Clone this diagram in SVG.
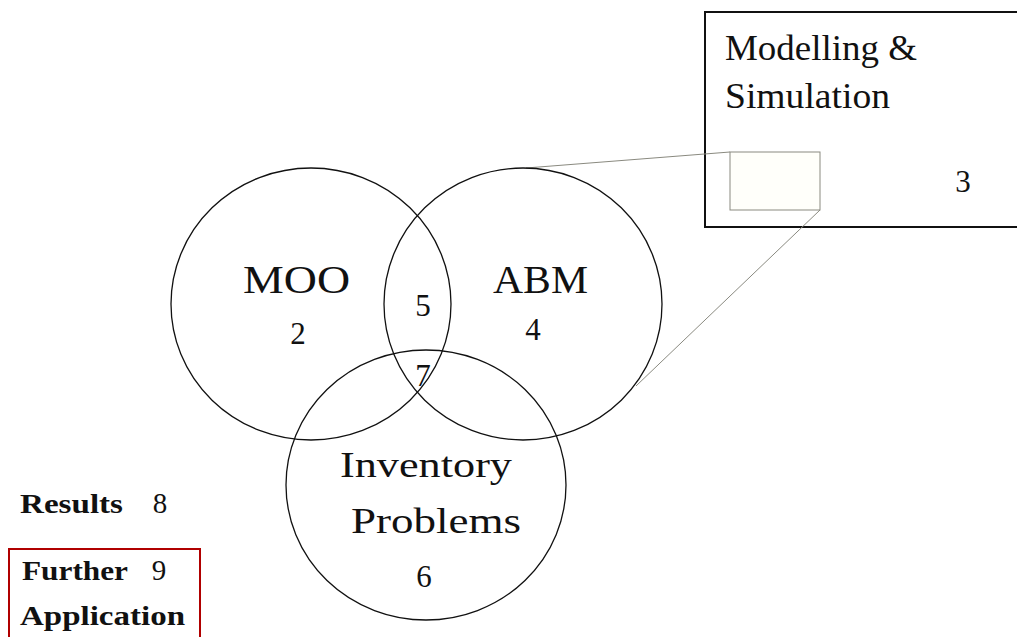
<svg xmlns="http://www.w3.org/2000/svg" width="1017" height="637" viewBox="0 0 1017 637">
  <style>
    .set { fill: none; stroke: #111; stroke-width: 1.3; }
    .lbl { font-family: "Liberation Serif", "DejaVu Serif", serif; fill: #111; }
    .big { font-size: 40px; }
    .mid { font-size: 36px; }
    .num { font-size: 31px; }
    .side { font-family: "Liberation Serif", "DejaVu Serif", serif; font-size: 27px; font-weight: bold; fill: #111; }
    .zoom { fill: none; stroke: #8a8a80; stroke-width: 1; }
  </style>
  <rect width="1017" height="637" fill="#fff"/>

  <g id="modelling">
    <rect x="705" y="12" width="318" height="215" fill="none" stroke="#111" stroke-width="2"/>
    <rect x="730" y="152" width="90" height="58" fill="#fffffa" stroke="#8a8a80" stroke-width="1"/>
    <text class="lbl mid" x="725" y="60" textLength="192" lengthAdjust="spacingAndGlyphs">Modelling &amp;</text>
    <text class="lbl mid" x="725" y="108" textLength="165" lengthAdjust="spacingAndGlyphs">Simulation</text>
    <text class="lbl num" x="963" y="192" text-anchor="middle">3</text>
  </g>

  <g id="connectors">
    <line class="zoom" x1="730" y1="152" x2="526" y2="168"/>
    <line class="zoom" x1="820" y1="210" x2="636" y2="386"/>
  </g>

  <g id="moo">
    <ellipse class="set" cx="311" cy="304" rx="140" ry="136"/>
    <text class="lbl big" x="243" y="293" textLength="107" lengthAdjust="spacingAndGlyphs">MOO</text>
    <text class="lbl num" x="298" y="344" text-anchor="middle">2</text>
  </g>

  <g id="abm">
    <ellipse class="set" cx="523" cy="304" rx="139" ry="136"/>
    <text class="lbl big" x="493" y="293" textLength="95" lengthAdjust="spacingAndGlyphs">ABM</text>
    <text class="lbl num" x="533" y="340" text-anchor="middle">4</text>
  </g>

  <g id="inventory">
    <ellipse class="set" cx="426" cy="485" rx="140" ry="135"/>
    <text class="lbl mid" x="340" y="477" textLength="172" lengthAdjust="spacingAndGlyphs">Inventory</text>
    <text class="lbl mid" x="351" y="533" textLength="170" lengthAdjust="spacingAndGlyphs">Problems</text>
    <text class="lbl num" x="424" y="587" text-anchor="middle">6</text>
  </g>

  <g id="overlaps">
    <text class="lbl num" x="423" y="316" text-anchor="middle">5</text>
    <text class="lbl num" x="423" y="386" text-anchor="middle">7</text>
  </g>

  <g id="results">
    <text class="side" x="20" y="513" textLength="103" lengthAdjust="spacingAndGlyphs">Results</text>
    <text class="lbl num" x="160" y="513" text-anchor="middle" style="font-size:29px">8</text>
  </g>

  <g id="further">
    <rect x="9" y="549" width="191" height="100" fill="none" stroke="#b00000" stroke-width="2"/>
    <text class="side" x="22" y="580" textLength="106" lengthAdjust="spacingAndGlyphs">Further</text>
    <text class="lbl num" x="159" y="580" text-anchor="middle" style="font-size:29px">9</text>
    <text class="side" x="20" y="625" textLength="165" lengthAdjust="spacingAndGlyphs">Application</text>
  </g>
</svg>
